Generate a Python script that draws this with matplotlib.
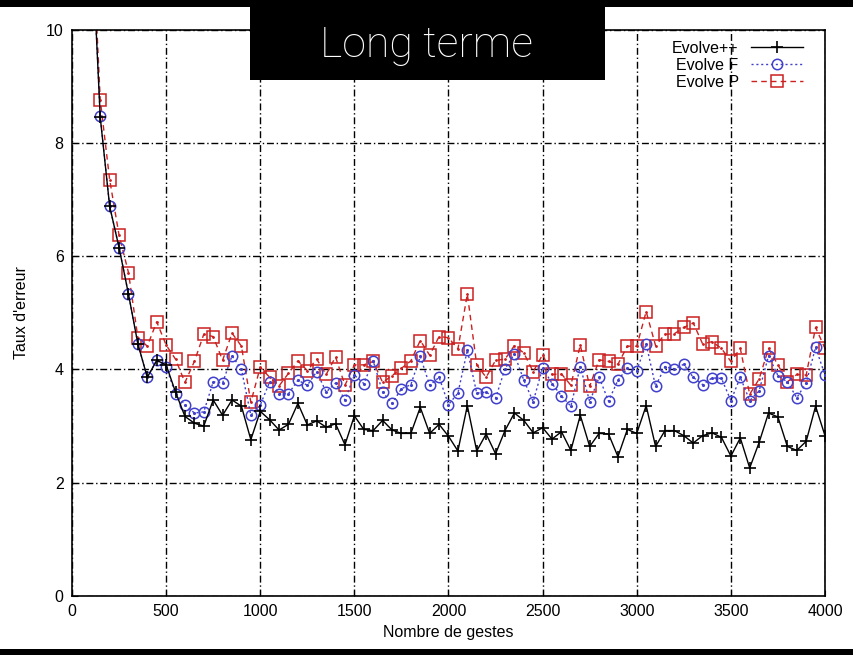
import numpy as np
import matplotlib
matplotlib.use("Agg")
import matplotlib.pyplot as plt
from matplotlib.patches import Rectangle

plt.rcParams['font.family'] = ['Liberation Sans', 'DejaVu Sans']

# x positions: number of gestures
x = list(range(100, 4001, 50))

evolve_pp = [12.0, 8.45, 6.88, 6.15, 5.33, 4.45, 3.86, 4.16, 4.08, 3.6,
             3.17, 3.05, 3.0, 3.46, 3.19, 3.46, 3.35, 2.76, 3.26, 3.11,
             2.93, 3.03, 3.40, 3.02, 3.09, 2.98, 3.04, 2.67, 3.18, 2.94,
             2.92, 3.10, 2.93, 2.87, 2.87, 3.33, 2.87, 3.03, 2.82, 2.56,
             3.36, 2.56, 2.86, 2.51, 2.92, 3.23, 3.10, 2.88, 2.97, 2.77,
             2.90, 2.57, 3.19, 2.64, 2.87, 2.86, 2.46, 2.94, 2.87, 3.36,
             2.64, 2.92, 2.92, 2.83, 2.70, 2.83, 2.88, 2.80, 2.47, 2.79,
             2.26, 2.71, 3.23, 3.16, 2.64, 2.57, 2.73, 3.35, 2.83]

evolve_f = [12.0, 8.47, 6.88, 6.15, 5.33, 4.45, 3.86, 4.16, 4.04, 3.57,
            3.38, 3.23, 3.25, 3.78, 3.76, 4.24, 4.0, 3.19, 3.37, 3.78,
            3.57, 3.57, 3.81, 3.72, 3.96, 3.60, 3.76, 3.46, 3.90, 3.75,
            4.15, 3.60, 3.40, 3.66, 3.73, 4.23, 3.72, 3.86, 3.38, 3.58,
            4.34, 3.58, 3.60, 3.49, 4.01, 4.27, 3.81, 3.43, 4.03, 3.75,
            3.53, 3.35, 4.05, 3.43, 3.86, 3.44, 3.81, 4.02, 3.98, 4.45,
            3.70, 4.05, 4.01, 4.09, 3.86, 3.73, 3.85, 3.84, 3.45, 3.86,
            3.45, 3.62, 4.24, 3.89, 3.78, 3.50, 3.76, 4.39, 3.90]

evolve_p = [12.3, 8.76, 7.35, 6.37, 5.71, 4.56, 4.41, 4.84, 4.43, 4.18,
            3.77, 4.14, 4.62, 4.58, 4.16, 4.64, 4.41, 3.42, 4.04, 3.86,
            3.71, 3.93, 4.15, 3.98, 4.18, 3.91, 4.22, 3.72, 4.08, 4.08,
            4.14, 3.77, 3.89, 4.02, 4.15, 4.51, 4.25, 4.58, 4.56, 4.36,
            5.33, 4.08, 3.86, 4.16, 4.18, 4.42, 4.29, 3.96, 4.26, 3.91,
            3.92, 3.72, 4.43, 3.70, 4.17, 4.14, 4.09, 4.41, 4.41, 5.02,
            4.42, 4.62, 4.63, 4.74, 4.82, 4.45, 4.49, 4.37, 4.14, 4.37,
            3.56, 3.83, 4.37, 4.08, 3.78, 3.91, 3.90, 4.74, 4.37]

labels = ["Evolve++", "Evolve F", "Evolve P"]
xticks = [0, 500, 1000, 1500, 2000, 2500, 3000, 3500, 4000]
yticks = [0, 2, 4, 6, 8, 10]
title_text = "Long terme"
xlabel = "Nombre de gestes"
ylabel = "Taux d'erreur"

W, H = 854, 655
fig = plt.figure(figsize=(W / 100, H / 100), dpi=100)
ax = fig.add_axes([72 / W, (H - 596) / H, (825 - 72) / W, (596 - 29.5) / H])

red = '#cc2020'
blue = '#4040cc'

ax.plot(x, evolve_pp, color='black', lw=1.0, marker='+', ms=9, mew=1.2,
        label=labels[0], zorder=4)
ax.plot(x, evolve_f, color=blue, lw=1.0, ls=(0, (1.5, 2)), marker='o', ms=7.5,
        mfc='none', mec=blue, mew=1.1, label=labels[1], zorder=3)
ax.plot(x, evolve_f, ls='none', marker='.', ms=2.5, color=blue, zorder=3)
ax.plot(x, evolve_p, color=red, lw=1.0, ls=(0, (4, 3)), marker='s', ms=8,
        mfc='none', mec=red, mew=1.1, label=labels[2], zorder=2)
ax.plot(x, evolve_p, ls='none', marker='.', ms=2, color=red, zorder=2)

ax.set_xlim(0, 4000)
ax.set_ylim(0, 10)
ax.set_xticks(xticks)
ax.set_yticks(yticks)
ax.tick_params(direction='in', length=4, labelsize=11.5, colors='black', pad=6)
ax.grid(True, color='black', lw=1.0, ls=(0, (5, 2, 1, 2)))
ax.set_axisbelow(True)
for s in ax.spines.values():
    s.set_linewidth(1.2)

ax.set_xlabel(xlabel, fontsize=11.5, labelpad=4)
ax.set_ylabel(ylabel, fontsize=11.5, labelpad=12)

leg = ax.legend(loc='upper right', bbox_to_anchor=(0.985, 1.0), frameon=False,
                markerfirst=False, fontsize=11.5, handlelength=3.2,
                labelspacing=0.12, handletextpad=0.8, borderaxespad=0.3)

# overlays: top band, bottom band, title box
fig.patches.append(Rectangle((0, 1 - 7 / H), 1, 7 / H, transform=fig.transFigure,
                             facecolor='black', edgecolor='none', zorder=10))
fig.patches.append(Rectangle((0, 0), 1, 6 / H, transform=fig.transFigure,
                             facecolor='black', edgecolor='none', zorder=10))
fig.patches.append(Rectangle((250 / W, 1 - 80 / H), (605 - 250) / W, 80 / H,
                             transform=fig.transFigure, facecolor='black',
                             edgecolor='none', zorder=10))
fig.text(427 / W, 1 - 45 / H, title_text, color='white', fontsize=31,
         family=['Roboto', 'Open Sans', 'DejaVu Sans'], fontweight='light',
         ha='center', va='center', zorder=11)

fig.savefig('out.png', dpi=100)
